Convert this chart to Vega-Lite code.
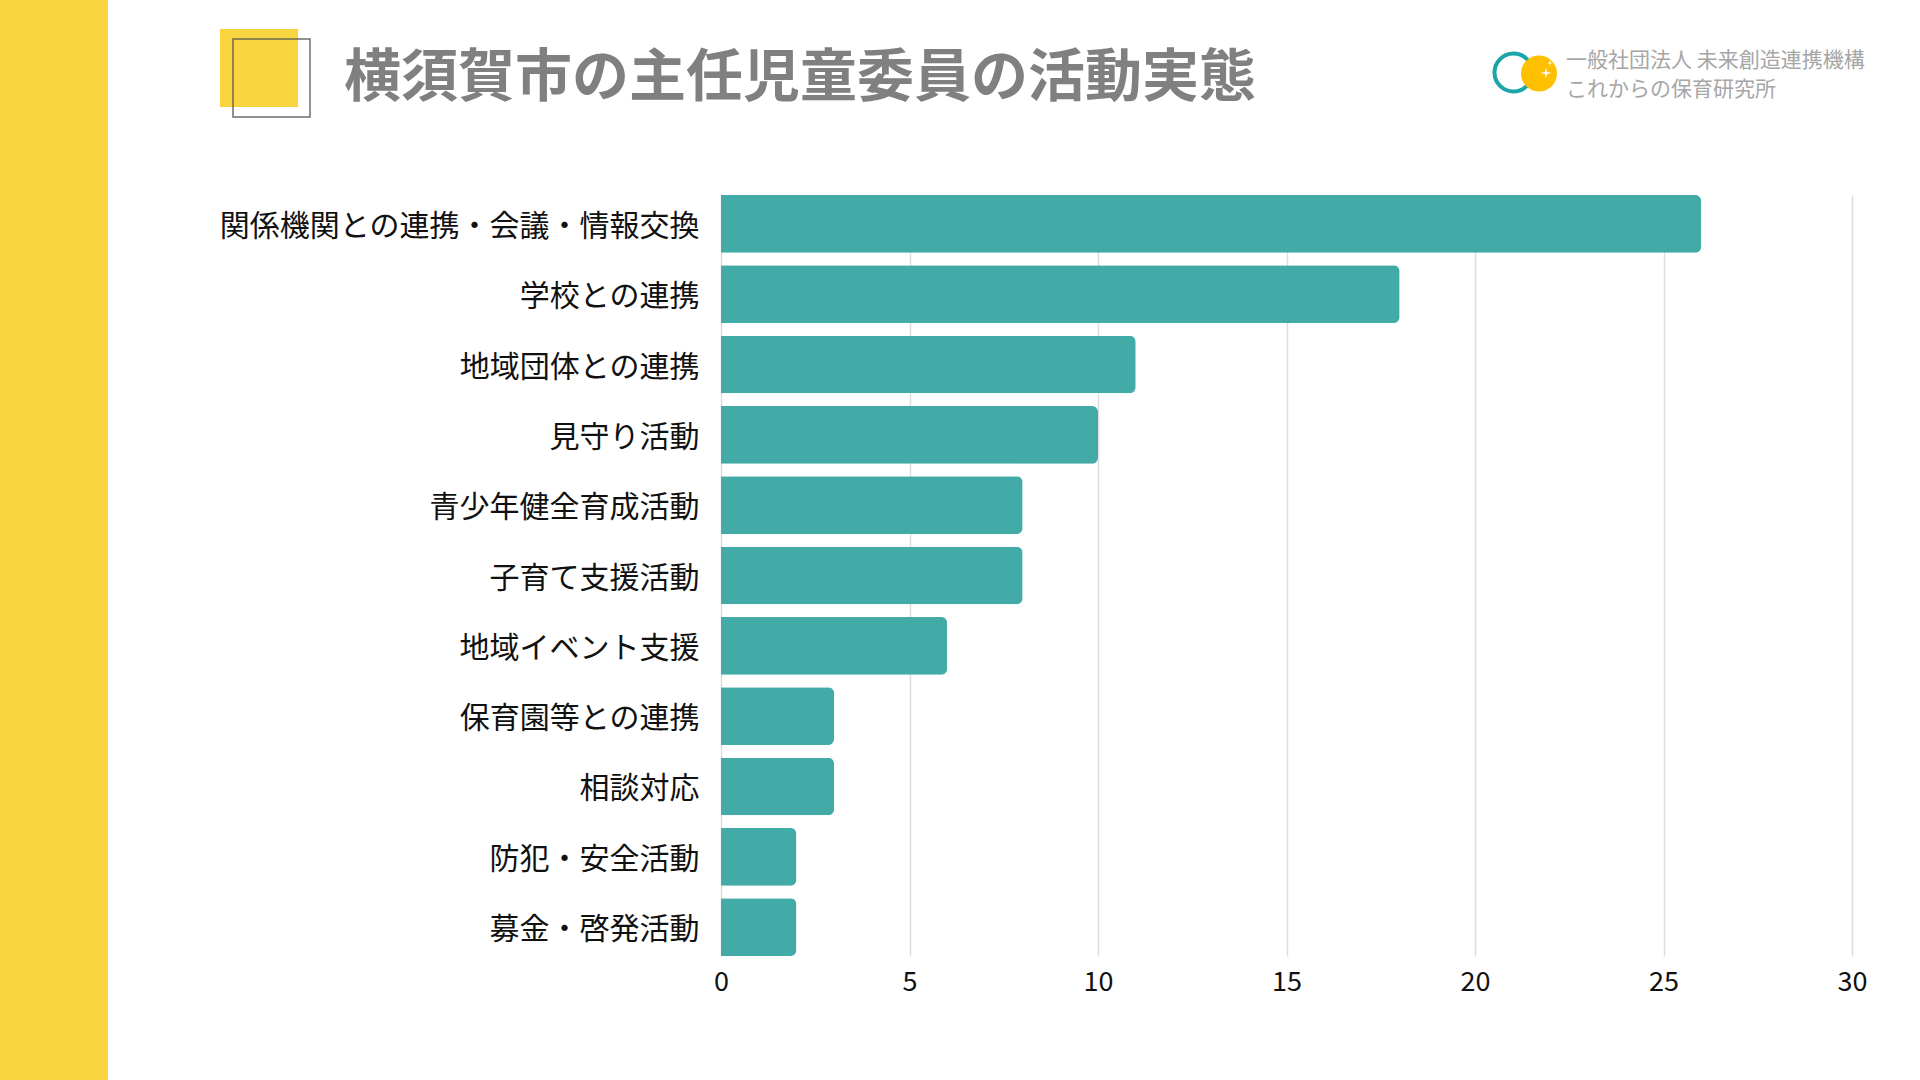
{
  "$schema": "https://vega.github.io/schema/vega-lite/v6.json",
  "width": 1131,
  "height": 761,
  "autosize": {"type": "none"},
  "padding": {"left": 721, "top": 195, "right": 68, "bottom": 124},
  "background": "#ffffff",
  "title": {
    "text": "横須賀市の主任児童委員の活動実態",
    "anchor": "start",
    "frame": "group",
    "dx": -377,
    "offset": -108,
    "font": "Noto Sans CJK JP",
    "fontSize": 57,
    "fontWeight": "bold",
    "color": "#808080"
  },
  "layer": [
    {
      "data": {"values": [{}]},
      "mark": {"type": "rect", "color": "#f8d53f"},
      "encoding": {
        "x": {"value": -721}, "x2": {"value": -613},
        "y": {"value": -195}, "y2": {"value": 885}
      }
    },
    {
      "data": {"values": [{}]},
      "mark": {"type": "rect", "color": "#f8d53f"},
      "encoding": {
        "x": {"value": -501}, "x2": {"value": -423},
        "y": {"value": -166}, "y2": {"value": -88}
      }
    },
    {
      "data": {"values": [{}]},
      "mark": {"type": "rect", "filled": false, "stroke": "#555555", "strokeWidth": 1.5, "strokeOpacity": 0.85},
      "encoding": {
        "x": {"value": -488}, "x2": {"value": -411},
        "y": {"value": -156}, "y2": {"value": -78}
      }
    },
    {
      "data": {"values": [{}]},
      "mark": {"type": "point", "shape": "circle", "filled": false, "stroke": "#1aa5a8", "strokeWidth": 4, "size": 1444, "opacity": 1},
      "encoding": {"x": {"value": 792.5}, "y": {"value": -122.5}}
    },
    {
      "data": {"values": [{}]},
      "mark": {"type": "point", "shape": "circle", "filled": true, "color": "#ffc000", "size": 1296, "opacity": 1},
      "encoding": {"x": {"value": 818}, "y": {"value": -121.5}}
    },
    {
      "data": {"values": [{}]},
      "mark": {"type": "point", "shape": "M0,-1L0.18,-0.18L1,0L0.18,0.18L0,1L-0.18,0.18L-1,0L-0.18,-0.18Z", "filled": true, "color": "#ffffff", "size": 130, "opacity": 1},
      "encoding": {"x": {"value": 825}, "y": {"value": -122}}
    },
    {
      "data": {"values": [{}]},
      "mark": {"type": "point", "shape": "M0,-1L0.18,-0.18L1,0L0.18,0.18L0,1L-0.18,0.18L-1,0L-0.18,-0.18Z", "filled": true, "color": "#ffffff", "size": 40, "opacity": 1},
      "encoding": {"x": {"value": 829}, "y": {"value": -132}}
    },
    {
      "data": {"values": [{"line": "一般社団法人 未来創造連携機構"}]},
      "mark": {"type": "text", "align": "left", "baseline": "middle", "font": "Noto Sans CJK JP", "fontSize": 21, "color": "#a6a6a6"},
      "encoding": {"x": {"value": 845}, "y": {"value": -134}, "text": {"field": "line"}}
    },
    {
      "data": {"values": [{"line": "これからの保育研究所"}]},
      "mark": {"type": "text", "align": "left", "baseline": "middle", "font": "Noto Sans CJK JP", "fontSize": 21, "color": "#a6a6a6"},
      "encoding": {"x": {"value": 845}, "y": {"value": -105}, "text": {"field": "line"}}
    },
    {
      "data": {
        "values": [
          {"activity": "関係機関との連携・会議・情報交換", "count": 26},
          {"activity": "学校との連携", "count": 18},
          {"activity": "地域団体との連携", "count": 11},
          {"activity": "見守り活動", "count": 10},
          {"activity": "青少年健全育成活動", "count": 8},
          {"activity": "子育て支援活動", "count": 8},
          {"activity": "地域イベント支援", "count": 6},
          {"activity": "保育園等との連携", "count": 3},
          {"activity": "相談対応", "count": 3},
          {"activity": "防犯・安全活動", "count": 2},
          {"activity": "募金・啓発活動", "count": 2}
        ]
      },
      "mark": {"type": "bar", "color": "#42aba7", "cornerRadiusEnd": 6},
      "encoding": {
        "y": {
          "field": "activity",
          "type": "nominal",
          "sort": null,
          "scale": {"paddingInner": 0.18, "paddingOuter": 0},
          "axis": {
            "title": null,
            "ticks": false,
            "domain": false,
            "labelFont": "Noto Sans CJK JP",
            "labelFontSize": 30,
            "labelColor": "#111111",
            "labelPadding": 22,
            "labelOffset": 3,
            "labelLimit": 0
          }
        },
        "x": {
          "field": "count",
          "type": "quantitative",
          "scale": {"domain": [0, 30], "nice": false},
          "axis": {
            "title": null,
            "values": [0, 5, 10, 15, 20, 25, 30],
            "ticks": false,
            "domain": false,
            "grid": true,
            "gridColor": "#dddddd",
            "gridWidth": 1.5,
            "labelFlush": false,
            "labelFont": "Noto Sans CJK JP",
            "labelFontSize": 27,
            "labelColor": "#111111",
            "labelPadding": 13
          }
        }
      }
    }
  ],
  "config": {
    "view": {"stroke": null}
  }
}
